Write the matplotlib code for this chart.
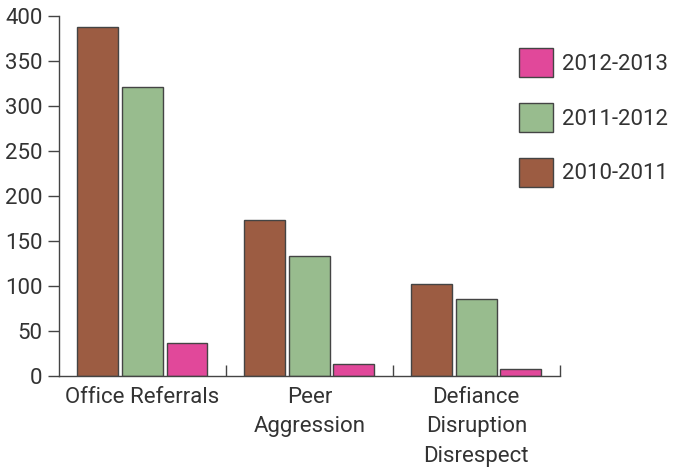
import matplotlib
matplotlib.use("Agg")
import matplotlib.pyplot as plt
from matplotlib.patches import Patch
import numpy as np

categories = ["Office Referrals", "Peer\nAggression", "Defiance\nDisruption\nDisrespect"]
years = ["2010-2011", "2011-2012", "2012-2013"]
values_2010_2011 = [388, 173, 102]
values_2011_2012 = [321, 133, 86]
values_2012_2013 = [37, 13, 8]
colors = ["#9C5C42", "#98BC8E", "#E1489A"]

plt.rcParams["font.family"] = ["Roboto", "DejaVu Sans"]
text_color = "#333333"
fs = 16

fig = plt.figure(figsize=(6.84, 4.76), dpi=100)
ax = fig.add_axes([0.0863, 0.21, 0.732, 0.756])

x = np.arange(len(categories))
step = 0.267
width = 0.245
series = [values_2010_2011, values_2011_2012, values_2012_2013]
for i, (vals, col) in enumerate(zip(series, colors)):
    ax.bar(x + (i - 1) * step, vals, width=width, color=col,
           edgecolor="#444444", linewidth=1.0, zorder=2)

ax.set_xlim(-0.5, 2.5)
ax.set_ylim(0, 400)
ax.set_yticks(np.arange(0, 401, 50))
ax.tick_params(axis="y", direction="out", length=8, width=1, colors="#444444",
               labelcolor=text_color, labelsize=fs, pad=4)

ax.set_xticks(x)
ax.set_xticklabels(categories, fontsize=fs, color=text_color, linespacing=1.52)
ax.tick_params(axis="x", length=0, pad=8)
ax.set_xticks([0.5, 1.5, 2.5], minor=True)
ax.tick_params(axis="x", which="minor", direction="in", length=8, width=1,
               colors="#444444")

for s in ["top", "right"]:
    ax.spines[s].set_visible(False)
for s in ["left", "bottom"]:
    ax.spines[s].set_color("#444444")
    ax.spines[s].set_linewidth(1.0)

handles = [Patch(facecolor=c, edgecolor="#444444", linewidth=1.0) for c in colors]
leg = ax.legend(handles[::-1], years[::-1], loc="upper left",
                bbox_to_anchor=(0.918, 0.912), frameon=False, fontsize=fs,
                handlelength=1.55, handleheight=1.65, labelspacing=1.15,
                handletextpad=0.4, borderpad=0, borderaxespad=0)
for t in leg.get_texts():
    t.set_color(text_color)

fig.savefig("out.png", dpi=100)
